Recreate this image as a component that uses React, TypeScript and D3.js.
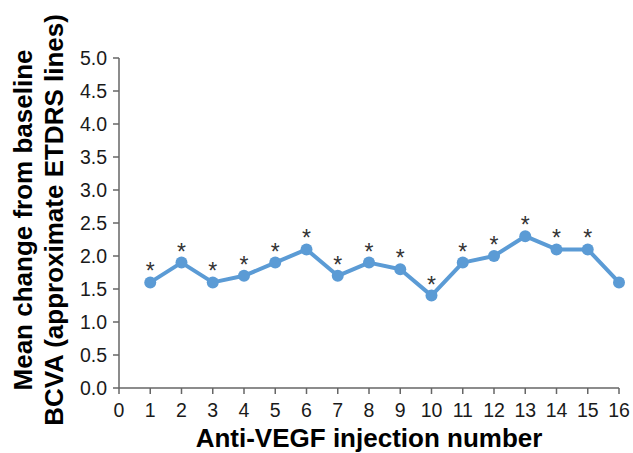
import { scaleLinear, line } from "d3";

const injections = [1, 2, 3, 4, 5, 6, 7, 8, 9, 10, 11, 12, 13, 14, 15, 16];
const meanChange = [1.6, 1.9, 1.6, 1.7, 1.9, 2.1, 1.7, 1.9, 1.8, 1.4, 1.9, 2.0, 2.3, 2.1, 2.1, 1.6];
const significant = [true, true, true, true, true, true, true, true, true, true, true, true, true, true, true, false];
const xTicks = [0, 1, 2, 3, 4, 5, 6, 7, 8, 9, 10, 11, 12, 13, 14, 15, 16];
const yTicks = [0, 0.5, 1, 1.5, 2, 2.5, 3, 3.5, 4, 4.5, 5];

const width = 633;
const height = 453;
const font = "Arial, 'Liberation Sans', sans-serif";
const axisColor = "#666666";
const blue = "#5b9bd5";

const App = () => {
  const x = scaleLinear().domain([0, 16]).range([119, 619]);
  const y = scaleLinear().domain([0, 5]).range([388, 58]);

  const pts = injections.map((d, i) => ({ x: d, y: meanChange[i], sig: significant[i] }));
  const path = line<{ x: number; y: number }>()
    .x((d) => x(d.x))
    .y((d) => y(d.y))(pts);

  const yMid = (y(0) + y(5)) / 2;

  return (
    <svg
      width={width}
      height={height}
      style={{ position: "absolute", left: 0, top: 0, background: "#fff" }}
      fontFamily={font}
    >
      {/* y axis */}
      <line x1={x(0)} x2={x(0)} y1={y(0)} y2={y(5)} stroke={axisColor} strokeWidth={1.5} />
      {yTicks.map((t) => (
        <g key={t}>
          <line x1={x(0) - 6} x2={x(0)} y1={y(t)} y2={y(t)} stroke={axisColor} strokeWidth={1.5} />
          <text x={x(0) - 12} y={y(t)} dy="0.36em" textAnchor="end" fontSize={19.5} fill="#1a1a1a">
            {t.toFixed(1)}
          </text>
        </g>
      ))}
      {/* x axis */}
      <line x1={x(0)} x2={x(16)} y1={y(0)} y2={y(0)} stroke={axisColor} strokeWidth={1.5} />
      {xTicks.map((t) => (
        <g key={t}>
          <line x1={x(t)} x2={x(t)} y1={y(0)} y2={y(0) + 6} stroke={axisColor} strokeWidth={1.5} />
          <text x={x(t)} y={y(0) + 29} textAnchor="middle" fontSize={19.5} fill="#1a1a1a">
            {t}
          </text>
        </g>
      ))}
      {/* series */}
      <path d={path ?? ""} fill="none" stroke={blue} strokeWidth={4} strokeLinejoin="round" />
      {pts.map((d, i) => (
        <circle key={i} cx={x(d.x)} cy={y(d.y)} r={6} fill={blue} />
      ))}
      {pts
        .filter((d) => d.sig)
        .map((d, i) => (
          <text key={i} x={x(d.x)} y={y(d.y) - 3} textAnchor="middle" fontSize={23} fill="#333">
            *
          </text>
        ))}
      {/* axis titles */}
      <text
        transform={`translate(${x(8)},447)`}
        textAnchor="middle"
        fontSize={26}
        fontWeight="bold"
        fill="#000"
      >
        Anti-VEGF injection number
      </text>
      <text
        transform={`translate(32,${yMid - 3}) rotate(-90)`}
        textAnchor="middle"
        fontSize={26}
        fontWeight="bold"
        fill="#000"
      >
        Mean change from baseline
      </text>
      <text
        transform={`translate(63,${yMid - 3}) rotate(-90)`}
        textAnchor="middle"
        fontSize={26}
        fontWeight="bold"
        fill="#000"
      >
        BCVA (approximate ETDRS lines)
      </text>
    </svg>
  );
};

export default App;
